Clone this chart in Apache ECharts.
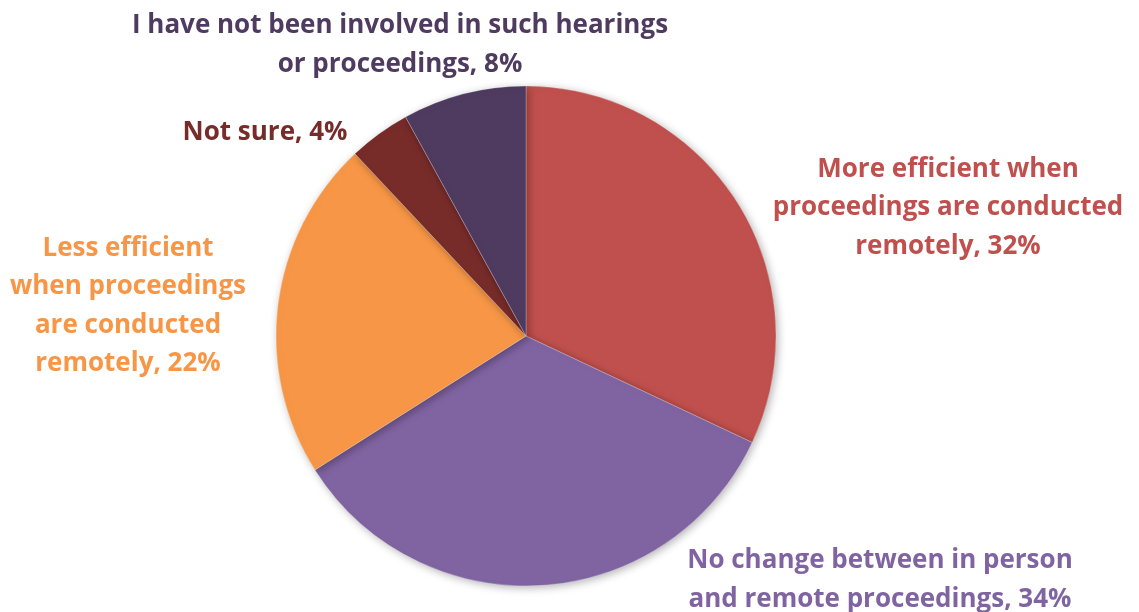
<!DOCTYPE html>
<html>
<head>
<meta charset="utf-8">
<script src="https://cdn.jsdelivr.net/npm/echarts@6/dist/echarts.min.js"></script>
<style>
    html, body { margin: 0; padding: 0; background: #fff; }
    #chart { width: 1139px; height: 612px; }
</style>
</head>
<body>
<div id="chart"></div>
<script>
// 数据
var names = [
    'More efficient when\nproceedings are conducted\nremotely',
    'No change between in person\nand remote proceedings',
    'Less efficient\nwhen proceedings\nare conducted\nremotely',
    'Not sure',
    'I have not been involved in such hearings\nor proceedings'
];
var values = [32, 34, 22, 4, 8];
var colors = ['#C0504D', '#8064A2', '#F79646', '#772C2A', '#4F3A60'];

// 标签位置 (中心点)
var labelPos = [
    [948, 208],
    [880, 580],
    [128, 306],
    [265, 133],
    [400, 45]
];

var myChart = echarts.init(document.getElementById('chart'));

var seriesData = [];
for (var i = 0; i < values.length; i++) {
    seriesData.push({
        name: names[i],
        value: values[i],
        itemStyle: {color: colors[i]},
        label: {color: colors[i]}
    });
}

var option = {
    animation: false,
    series: [{
        type: 'pie',
        center: [526, 336],
        radius: 250,
        startAngle: 90,
        clockwise: true,
        data: seriesData,
        itemStyle: {
            borderColor: 'rgba(255,255,255,0.5)',
            borderWidth: 0.5,
            shadowBlur: 8,
            shadowOffsetX: 2,
            shadowOffsetY: 2,
            shadowColor: 'rgba(0,0,0,0.3)'
        },
        label: {
            show: true,
            position: 'outside',
            formatter: function (p) {
                return p.name + ', ' + p.value + '%';
            },
            fontFamily: 'Open Sans',
            fontWeight: 'bold',
            fontSize: 26,
            lineHeight: 38.5,
            align: 'center',
            overflow: 'none',
            width: 700
        },
        labelLine: {show: false},
        labelLayout: function (params) {
            var pos = labelPos[params.dataIndex];
            return {
                x: pos[0],
                y: pos[1],
                align: 'center',
                verticalAlign: 'middle'
            };
        }
    }]
};

myChart.setOption(option);
</script>
</body>
</html>
